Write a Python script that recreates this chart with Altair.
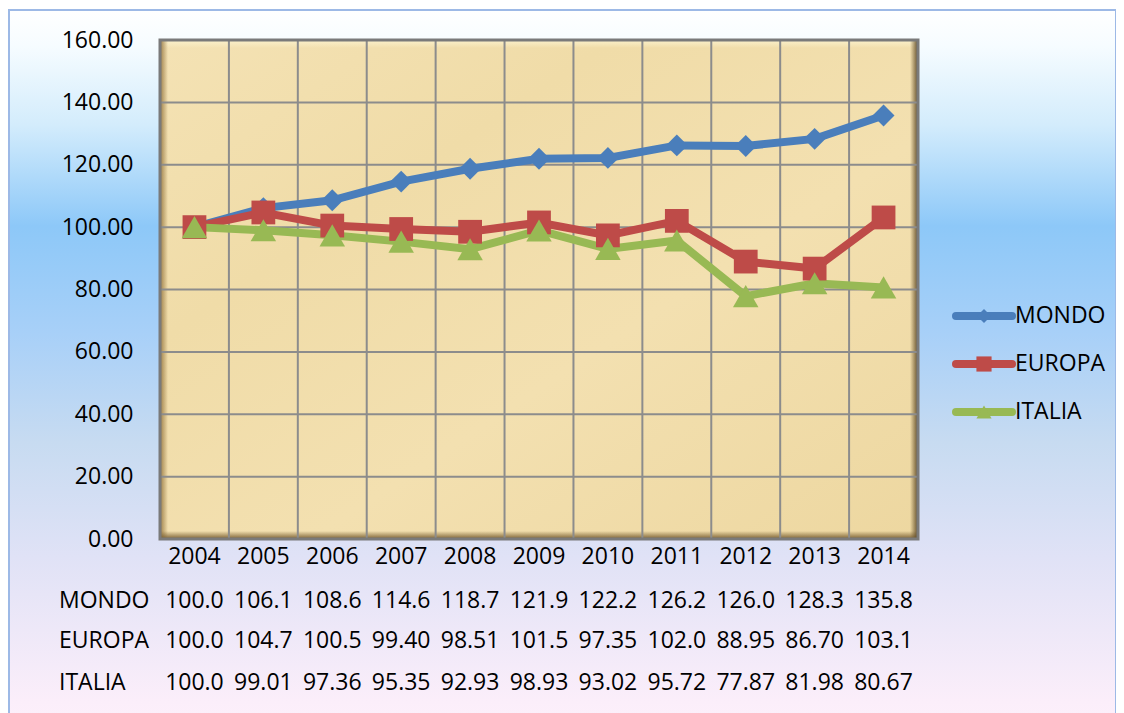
import altair as alt
import pandas as pd

years = ["2004", "2005", "2006", "2007", "2008", "2009", "2010", "2011", "2012", "2013", "2014"]
series = ["MONDO", "EUROPA", "ITALIA"]
mondo = [100.0, 106.1, 108.6, 114.6, 118.7, 121.9, 122.2, 126.2, 126.0, 128.3, 135.8]
europa = [100.0, 104.7, 100.5, 99.40, 98.51, 101.5, 97.35, 102.0, 88.95, 86.70, 103.1]
italia = [100.0, 99.01, 97.36, 95.35, 92.93, 98.93, 93.02, 95.72, 77.87, 81.98, 80.67]
y_ticks = [0, 20, 40, 60, 80, 100, 120, 140, 160]

colors = ["#4A7EBB", "#BE4B48", "#98B954"]
shapes = ["diamond", "square", "triangle-up"]
sizes = [480, 650, 600]

rows = []
for s, vals in zip(series, [mondo, europa, italia]):
    for yr, v in zip(years, vals):
        rows.append({"year": yr, "series": s, "value": v})
df = pd.DataFrame(rows)

W, H = 758, 499
FONT = "Open Sans"
FS = 23

x_scale = alt.Scale(domain=years, paddingInner=0, paddingOuter=0)
y_scale = alt.Scale(domain=[0, 160], nice=False, zero=True)
c_scale = alt.Scale(domain=series, range=colors)
one = pd.DataFrame({"k": [0]})


def grad(c1, c2, horizontal):
    return alt.LinearGradient(
        gradient="linear",
        x1=0, y1=0, x2=1 if horizontal else 0, y2=0 if horizontal else 1,
        stops=[alt.GradientStop(color=c1, offset=0), alt.GradientStop(color=c2, offset=1)],
    )


bg_grad = alt.LinearGradient(
    gradient="linear", x1=0, x2=0, y1=0, y2=1,
    stops=[
        alt.GradientStop(color="#FFFFFF", offset=0.0),
        alt.GradientStop(color="#F6FCFF", offset=0.05),
        alt.GradientStop(color="#D3ECFC", offset=0.16),
        alt.GradientStop(color="#8DC8F8", offset=0.30),
        alt.GradientStop(color="#A8D0F8", offset=0.45),
        alt.GradientStop(color="#C7DBF1", offset=0.60),
        alt.GradientStop(color="#E0E2F6", offset=0.76),
        alt.GradientStop(color="#FBEEFA", offset=0.96),
        alt.GradientStop(color="#FDF0FB", offset=1.0),
    ],
)
paper_grad = alt.LinearGradient(
    gradient="linear", x1=0, x2=1, y1=0, y2=1,
    stops=[
        alt.GradientStop(color="#F4E2B4", offset=0.0),
        alt.GradientStop(color="#F0DCA8", offset=0.3),
        alt.GradientStop(color="#F3E0B0", offset=0.6),
        alt.GradientStop(color="#EDD7A0", offset=1.0),
    ],
)

background = alt.Chart(one).mark_rect(
    fill=bg_grad, stroke="#9DB9E6", strokeWidth=2
).encode(x=alt.value(-151), x2=alt.value(956), y=alt.value(-30), y2=alt.value(690))

plot_area = alt.Chart(one).mark_rect(fill=paper_grad).encode(
    x=alt.value(0), x2=alt.value(W), y=alt.value(0), y2=alt.value(H)
)

B = 8
bevel_top = alt.Chart(one).mark_rect(fill=grad("#FBF1CC", "rgba(251,241,204,0)", False)).encode(
    x=alt.value(0), x2=alt.value(W), y=alt.value(0), y2=alt.value(B)
)
bevel_left = alt.Chart(one).mark_rect(fill=grad("#9C7E48", "rgba(156,126,72,0)", True)).encode(
    x=alt.value(0), x2=alt.value(B), y=alt.value(0), y2=alt.value(H)
)
bevel_bottom = alt.Chart(one).mark_rect(fill=grad("rgba(120,95,50,0)", "#7A5F32", False)).encode(
    x=alt.value(0), x2=alt.value(W), y=alt.value(H - B), y2=alt.value(H)
)
bevel_right = alt.Chart(one).mark_rect(fill=grad("rgba(110,88,48,0)", "#5E4A28", True)).encode(
    x=alt.value(W - B), x2=alt.value(W), y=alt.value(0), y2=alt.value(H)
)
frame = alt.Chart(one).mark_rect(fill="transparent", stroke="#7A7A7A", strokeWidth=3).encode(
    x=alt.value(0), x2=alt.value(W), y=alt.value(0), y2=alt.value(H)
)

hgrid = alt.Chart(pd.DataFrame({"v": y_ticks[1:-1]})).mark_rule(
    color="#8C8C8C", strokeWidth=2
).encode(
    y=alt.Y("v:Q", scale=y_scale, title=None),
    x=alt.value(0), x2=alt.value(W),
)

x_axis = alt.Axis(labelAngle=0, ticks=False, domain=False, grid=False,
                  labelPadding=6, zindex=1, bandPosition=0.5)

vgrid = alt.Chart(pd.DataFrame({"year": years[1:]})).mark_rule(
    color="#8C8C8C", strokeWidth=2
).encode(
    x=alt.X("year:O", scale=x_scale, bandPosition=0, title=None, axis=x_axis),
    y=alt.value(0), y2=alt.value(H),
)

xenc = alt.X("year:O", scale=x_scale, title=None, axis=x_axis)
yenc = alt.Y("value:Q", scale=y_scale, title=None,
             axis=alt.Axis(values=y_ticks, format=".2f", ticks=False, domain=False,
                           grid=False, labelPadding=27, zindex=1))

lines = alt.Chart(df).mark_line(strokeWidth=8).encode(
    x=xenc, y=yenc,
    color=alt.Color("series:N", scale=c_scale, legend=None),
    detail="series:N",
)
points = alt.Chart(df).mark_point(filled=True, opacity=1).encode(
    x=xenc, y=yenc,
    color=alt.Color("series:N", scale=c_scale, legend=None),
    shape=alt.Shape("series:N", scale=alt.Scale(domain=series, range=shapes), legend=None),
    size=alt.Size("series:N", scale=alt.Scale(domain=series, range=sizes), legend=None),
)

layers = [background, plot_area, bevel_top, bevel_left, bevel_bottom, bevel_right,
          hgrid, vgrid, frame, lines, points]

row_y = [561, 601, 643]
leg_y = [276, 324, 372]
leg_sizes = [200, 230, 230]
for i, s in enumerate(series):
    sub = df[df["series"] == s]
    layers.append(
        alt.Chart(sub).mark_text(font=FONT, fontSize=FS, color="#000000", baseline="middle", align="center").encode(
            x=xenc,
            y=alt.value(row_y[i]),
            text=alt.Text("value:Q", format=".4r"),
        )
    )
    lab = pd.DataFrame({"series": [s]})
    layers.append(
        alt.Chart(lab).mark_text(font=FONT, fontSize=FS, color="#000000", baseline="middle", align="left").encode(
            x=alt.value(-101), y=alt.value(row_y[i]), text="series:N"
        )
    )
    layers.append(
        alt.Chart(lab).mark_rule(strokeWidth=8, strokeCap="round", color=colors[i]).encode(
            x=alt.value(796), x2=alt.value(852), y=alt.value(leg_y[i])
        )
    )
    layers.append(
        alt.Chart(lab).mark_point(filled=True, opacity=1, color=colors[i], shape=shapes[i], size=leg_sizes[i]).encode(
            x=alt.value(824), y=alt.value(leg_y[i])
        )
    )
    layers.append(
        alt.Chart(lab).mark_text(font=FONT, fontSize=FS, color="#000000", baseline="middle", align="left").encode(
            x=alt.value(855), y=alt.value(leg_y[i]), text="series:N"
        )
    )

chart = alt.layer(*layers).properties(
    width=W, height=H,
    autosize=alt.AutoSizeParams(type="none"),
    padding={"left": 152, "top": 32, "right": 198, "bottom": 174},
).configure_view(stroke=None).configure_axis(
    labelFont=FONT, labelFontSize=FS, labelColor="#000000"
)

chart.save("out.html", embed_options={"renderer": "svg", "actions": False})
